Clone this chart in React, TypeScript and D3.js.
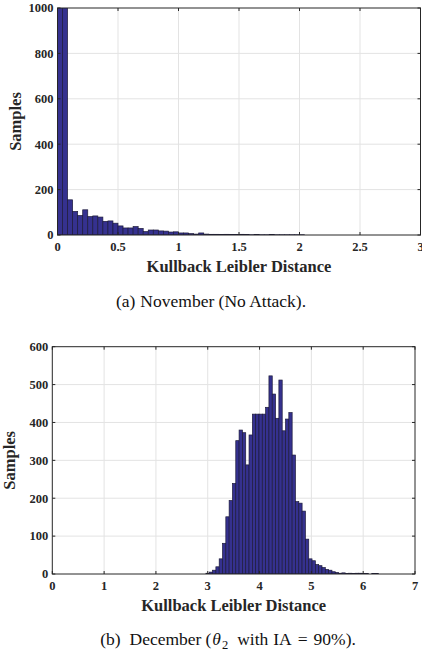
import * as d3 from 'd3';

// (a) November, no attack. First two bins run past the top of the axes.
const novBinStart = 0;
const novBinWidth = 1 / 24;
const novCounts = [
  2900, 1800, 155, 104, 86, 111, 81, 84, 79, 60, 62, 52, 40, 31, 31, 37, 29, 15,
  22, 22, 18, 17, 13, 14, 9, 9, 6, 4, 9, 4, 3, 3, 2, 3, 2, 2, 3, 2, 1, 2, 1, 1,
  2, 1, 1, 1, 1, 1, 1,
];
const novXTicks = [0, 0.5, 1, 1.5, 2, 2.5, 3];
const novYTicks = [0, 200, 400, 600, 800, 1000];

// (b) December, theta_2 with IA = 90%
const decBinStart = 2.965;
const decBinWidth = 0.064;
const decCounts = [
  2, 5, 10, 19, 40, 81, 151, 194, 239, 352, 380, 373, 288, 367, 422, 422, 422,
  422, 440, 523, 475, 411, 512, 378, 409, 426, 314, 191, 187, 166, 92, 40, 35,
  25, 22, 17, 12, 10, 6, 4, 2, 3, 1, 2, 1, 2, 2, 1, 1, 0, 1, 1,
];
const decXTicks = [0, 1, 2, 3, 4, 5, 6, 7];
const decYTicks = [0, 100, 200, 300, 400, 500, 600];

const FONT = '"Liberation Serif", "Times New Roman", serif';
const INK = '#262626';
const BAR_FILL = '#35318f';
const BAR_EDGE = '#1d1b3a';

type Box = { left: number; right: number; top: number; bottom: number };

function Histogram({ id, counts, binStart, binWidth, xTicks, yTicks, box, xLabel, yLabel }: {
  id: string; counts: number[]; binStart: number; binWidth: number;
  xTicks: number[]; yTicks: number[]; box: Box; xLabel: string; yLabel: string;
}) {
  const x = d3.scaleLinear().domain(d3.extent(xTicks) as [number, number]).range([box.left, box.right]);
  const y = d3.scaleLinear().domain(d3.extent(yTicks) as [number, number]).range([box.bottom, box.top]);
  const tick = 3;

  const bins = counts
    .map((c, i) => ({ x0: binStart + i * binWidth, x1: binStart + (i + 1) * binWidth, c }))
    .filter(b => b.c > 0);

  return (
    <g>
      <defs>
        <clipPath id={id}>
          <rect x={box.left} y={box.top} width={box.right - box.left} height={box.bottom - box.top} />
        </clipPath>
      </defs>
      <rect x={box.left} y={box.top} width={box.right - box.left} height={box.bottom - box.top} fill="#fff" />

      {/* grid */}
      <g stroke="#e3e3e3" strokeWidth={1}>
        {xTicks.slice(1, -1).map(t => (
          <line key={'gx' + t} x1={x(t)} x2={x(t)} y1={box.top} y2={box.bottom} />
        ))}
        {yTicks.slice(1, -1).map(t => (
          <line key={'gy' + t} x1={box.left} x2={box.right} y1={y(t)} y2={y(t)} />
        ))}
      </g>

      {/* bars */}
      <g clipPath={`url(#${id})`}>
        {bins.map((b, i) => (
          <rect key={i} x={x(b.x0)} y={y(b.c)} width={x(b.x1) - x(b.x0)} height={y(0) - y(b.c)}
            fill={BAR_FILL} stroke={BAR_EDGE} strokeWidth={0.7} />
        ))}
      </g>

      {/* box and inward ticks */}
      <rect x={box.left} y={box.top} width={box.right - box.left} height={box.bottom - box.top}
        fill="none" stroke={INK} strokeWidth={1} />
      <g stroke={INK} strokeWidth={1}>
        {xTicks.map(t => (
          <g key={'tx' + t}>
            <line x1={x(t)} x2={x(t)} y1={box.bottom} y2={box.bottom - tick} />
            <line x1={x(t)} x2={x(t)} y1={box.top} y2={box.top + tick} />
          </g>
        ))}
        {yTicks.map(t => (
          <g key={'ty' + t}>
            <line x1={box.left} x2={box.left + tick} y1={y(t)} y2={y(t)} />
            <line x1={box.right} x2={box.right - tick} y1={y(t)} y2={y(t)} />
          </g>
        ))}
      </g>

      {/* tick labels */}
      <g fontFamily={FONT} fontWeight="bold" fontSize={12.5} fill={INK}>
        {xTicks.map(t => (
          <text key={'lx' + t} x={x(t)} y={box.bottom + 15.5} textAnchor="middle">{String(t)}</text>
        ))}
        {yTicks.map(t => (
          <text key={'ly' + t} x={box.left - 4} y={y(t) + 4.3} textAnchor="end">{String(t)}</text>
        ))}
      </g>

      {/* axis titles */}
      <text x={(box.left + box.right) / 2} y={box.bottom + 37} textAnchor="middle"
        fontFamily={FONT} fontWeight="bold" fontSize={16.5} fill={INK}>{xLabel}</text>
      <text transform={`translate(${box.left - 37},${(box.top + box.bottom) / 2}) rotate(-90)`}
        textAnchor="middle" fontFamily={FONT} fontWeight="bold" fontSize={16.5} fill={INK}>{yLabel}</text>
    </g>
  );
}

export default function App() {
  const boxA = { left: 57.5, right: 420.5, top: 8, bottom: 235 };
  const boxB = { left: 52.3, right: 415, top: 346.7, bottom: 574 };

  return (
    <svg width={422} height={656} style={{ position: 'absolute', left: 0, top: 0, background: '#fff' }}>
      <Histogram id="clipA" counts={novCounts} binStart={novBinStart} binWidth={novBinWidth}
        xTicks={novXTicks} yTicks={novYTicks} box={boxA}
        xLabel="Kullback Leibler Distance" yLabel="Samples" />
      <text x={211} y={307} textAnchor="middle" fontFamily={FONT} fontSize={17.5} fill="#111">
        (a)<tspan dx={5}>November (No Attack).</tspan>
      </text>

      <Histogram id="clipB" counts={decCounts} binStart={decBinStart} binWidth={decBinWidth}
        xTicks={decXTicks} yTicks={decYTicks} box={boxB}
        xLabel="Kullback Leibler Distance" yLabel="Samples" />
      <text x={228} y={645} textAnchor="middle" fontFamily={FONT} fontSize={17.5} fill="#111">
        (b)<tspan dx={9}>December</tspan>
        <tspan dx={4}>(</tspan><tspan fontStyle="italic" dx={1}>θ</tspan>
        <tspan dy={4} dx={1} fontSize={12.5}>2</tspan>
        <tspan dy={-4} dx={9}>with</tspan>
        <tspan dx={5}>IA</tspan>
        <tspan dx={6}>=</tspan>
        <tspan dx={6}>90%).</tspan>
      </text>
    </svg>
  );
}
